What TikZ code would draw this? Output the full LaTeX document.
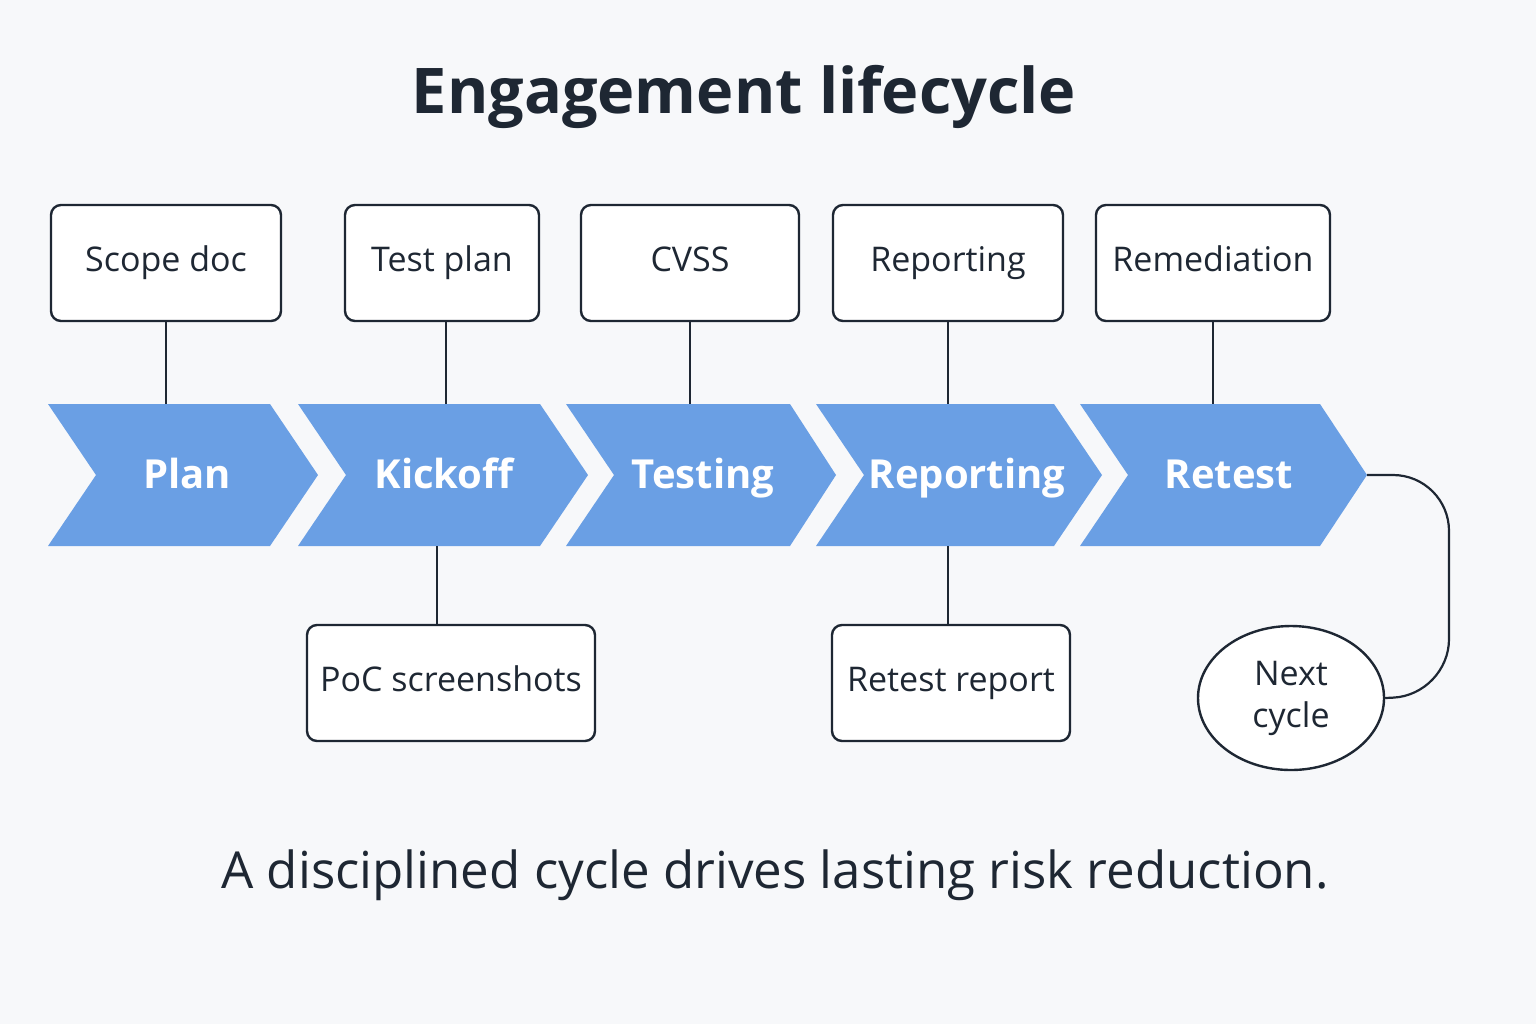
\documentclass[tikz,border=0pt]{standalone}
\usepackage{fontspec}
\setmainfont{Open Sans}
\usetikzlibrary{shapes.geometric}
\definecolor{bg}{HTML}{F7F8FA}
\definecolor{chev}{HTML}{6A9FE4}
\definecolor{ink}{HTML}{1E2733}
\begin{document}
\begin{tikzpicture}[x=0.5pt,y=-0.5pt,
  box/.style={draw=ink,line width=1.2pt,rounded corners=5pt,fill=white,font=\fontsize{17}{20}\selectfont,text=ink,text height=12pt,text depth=3.5pt},
  chevt/.style={text=white,font=\fontsize{20}{24}\selectfont\bfseries,text height=14pt,text depth=4pt},
  link/.style={draw=ink,line width=1.1pt}]
\fill[bg] (0,0) rectangle (1536,1024);
\useasboundingbox (0,0) rectangle (1536,1024);
\node[text=ink,font=\fontsize{31.5}{36}\selectfont\bfseries] (title) at (744,97) {Engagement lifecycle};
\node[text=ink,font=\fontsize{25.5}{30}\selectfont] (sub) at (775,875) {A disciplined cycle drives lasting risk reduction.};
% chevrons
\fill[chev] (48,404) -- (270,404) -- (318,475) -- (270,546) -- (48,546) -- (96,475) -- cycle;
\fill[chev] (298,404) -- (540,404) -- (588,475) -- (540,546) -- (298,546) -- (346,475) -- cycle;
\fill[chev] (566,404) -- (790,404) -- (836,475) -- (790,546) -- (566,546) -- (614,475) -- cycle;
\fill[chev] (816,404) -- (1054,404) -- (1102,475) -- (1054,546) -- (816,546) -- (864,475) -- cycle;
\fill[chev] (1080,404) -- (1320,404) -- (1367,475) -- (1320,546) -- (1080,546) -- (1128,475) -- cycle;
\node[chevt] (plan) at (187,478) {Plan};
\node[chevt] (kick) at (444,478) {Kickoff};
\node[chevt] (test) at (703,478) {Testing};
\node[chevt] (rep) at (967,478) {Reporting};
\node[chevt] (ret) at (1229,478) {Retest};
\coordinate (c1) at (166,404); \coordinate (c2) at (446,404); \coordinate (c3) at (690,404);
\coordinate (c4) at (948,404); \coordinate (c5) at (1213,404);
\coordinate (d2) at (437,546); \coordinate (d4) at (948,546); \coordinate (tip) at (1367,475);
% top boxes
\node[box,minimum width=115pt,minimum height=58pt] (b1) at (166,263) {Scope doc};
\node[box,minimum width=97pt,minimum height=58pt] (b2) at (442,263) {Test plan};
\node[box,minimum width=109pt,minimum height=58pt] (b3) at (690,263) {CVSS};
\node[box,minimum width=115pt,minimum height=58pt] (b4) at (948,263) {Reporting};
\node[box,minimum width=117pt,minimum height=58pt] (b5) at (1213,263) {Remediation};
\node[box,minimum width=144pt,minimum height=58pt] (p1) at (451,683) {PoC screenshots};
\node[box,minimum width=119pt,minimum height=58pt] (p2) at (951,683) {Retest report};
\node[ellipse,draw=ink,line width=1.2pt,fill=white,minimum width=93pt,minimum height=72pt,align=center,text=ink,font=\fontsize{17}{21}\selectfont] (nc) at (1291,698) {Next\\cycle};
\draw[link] (b1.south) -- (c1);
\draw[link] (b2.south -| c2) -- (c2);
\draw[link] (b3.south) -- (c3);
\draw[link] (b4.south) -- (c4);
\draw[link] (b5.south) -- (c5);
\draw[link] (d2) -- (p1.north -| d2);
\draw[link] (d4) -- (p2.north -| d4);
\draw[link,rounded corners=28pt] (tip) -- (1449,475) -- (1449,695) -- (nc.east);
\end{tikzpicture}
\end{document}
